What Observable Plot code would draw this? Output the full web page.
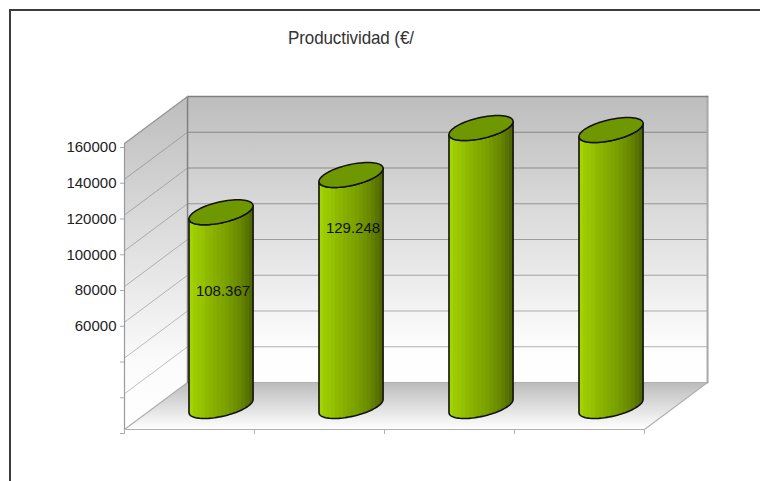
<!DOCTYPE html>
<html>
<head>
<meta charset="utf-8">
<script src="https://cdn.jsdelivr.net/npm/d3@7"></script>
<script src="https://cdn.jsdelivr.net/npm/@observablehq/plot@0.6"></script>
<style>
html,body{margin:0;padding:0;background:#fff;width:760px;height:481px;overflow:hidden}
#frame{position:absolute;left:9px;top:9px;width:751px;height:472px;border-left:2px solid #3c3c3c;border-top:2px solid #3c3c3c;box-sizing:border-box;pointer-events:none}
#title{position:absolute;left:288px;top:28px;font:17px "Liberation Sans",sans-serif;color:#333;white-space:pre;letter-spacing:-.1px;transform:scaleY(1.08);transform-origin:left top}
#chart{position:absolute;left:0;top:0}
</style>
</head>
<body>
<div id="chart"></div>
<div id="frame"></div>
<div id="title">Productividad (€/</div>
<script>
// Data
const titleText = "Productividad (€/";
const categories = [0, 1, 2, 3];
const values = [108367, 129248, 155500, 154400];
const valueLabels = ["108.367", "129.248", "", ""];
const labelHeights = [64000, 99300, 0, 0];
const gridValues = [0, 20000, 40000, 60000, 80000, 100000, 120000, 140000, 160000];
const labelledTicks = [60000, 80000, 100000, 120000, 140000, 160000];
const xTicks = [0, 1, 2, 3, 4];

// Oblique projection: one unit of depth moves a point right and up (in data units)
const DEPTH_X = 0.485, DEPTH_Y = 26300;
const VMAX = 160000, NC = 4;
const RC = 0.21, RD = 0.266;
const pt = (c, v, d = 0) => ({x: c + d * DEPTH_X, y: v + d * DEPTH_Y});

const wall = (corners) => corners.map(([c, v, d]) => pt(c, v, d));
const backWall = wall([[0,0,1],[NC,0,1],[NC,VMAX,1],[0,VMAX,1],[0,0,1]]);
const sideWall = wall([[0,0,0],[0,VMAX,0],[0,VMAX,1],[0,0,1],[0,0,0]]);
const floor = wall([[0,0,0],[NC,0,0],[NC,0,1],[0,0,1],[0,0,0]]);

const gridGrey = d3.scaleLinear().domain([0, VMAX]).range(["#b8b8b8", "#808080"]);
const sideGrey = d3.scaleLinear().domain([0, VMAX]).range(["#c4c4c4", "#9a9a9a"]);
const backGrid = gridValues.flatMap(v => [pt(0, v, 1), pt(NC, v, 1)].map(p => ({...p, k: v, s: gridGrey(v)})));
const sideGrid = gridValues.flatMap(v => [pt(0, v, 0), pt(0, v, 1)].map(p => ({...p, k: v, s: sideGrey(v)})));

// Cylinder outlines
const ring = (c, v, a) => pt(c + 0.5 + RC * Math.cos(a), v, 0.5 + RD * Math.sin(a));
const A0 = Math.atan2(RD * DEPTH_X, RC); // angle of the ellipse's x extreme
const steps = d3.range(0, 49).map(i => i / 48);
const bodies = categories.flatMap(c => {
  const v = values[c];
  const front = steps.map(t => ring(c, 0, Math.PI + A0 + t * Math.PI));
  const back = steps.map(t => ring(c, v, A0 - t * Math.PI));
  return [...front, ...back, front[0]].map(p => ({...p, c}));
});
const caps = categories.flatMap(c =>
  d3.range(0, 73).map(i => ({...ring(c, values[c], i / 72 * 2 * Math.PI), c})));

const tickLabel = v => labelledTicks.includes(v) ? String(v) : "";

const bandCols = ["#a3d400","#9ccb00","#98c600","#94c100","#8eb900","#8ab400","#86ae00","#82a900","#7ea400","#7aa000","#749800","#6f9100","#698900","#618000","#597400","#4f6800"];
function defs() {
  const d = d3.create("svg:defs");
  const vg = (id, stops) => {
    const g = d.append("linearGradient").attr("id", id).attr("x1",0).attr("y1",0).attr("x2",0).attr("y2",1);
    stops.forEach(([o, c]) => g.append("stop").attr("offset", o).attr("stop-color", c));
  };
  vg("wallGrad", [[0,"#bdbdbd"],[0.88,"#fdfdfd"],[1,"#ffffff"]]);
  vg("sideGrad", [[0,"#bdbdbd"],[0.8,"#fbfbfb"],[1,"#ffffff"]]);
  vg("floorGrad", [[0,"#bcbcbc"],[1,"#ffffff"]]);
  const g = d.append("linearGradient").attr("id","cylGrad").attr("x1",0).attr("y1",0).attr("x2",1).attr("y2",0);
  bandCols.forEach((c,i) => {
    g.append("stop").attr("offset", i/bandCols.length).attr("stop-color", c);
    g.append("stop").attr("offset", (i+1)/bandCols.length).attr("stop-color", c);
  });
  return d.node();
}

const font = '"Liberation Sans", sans-serif';
const plot = Plot.plot({
  width: 760, height: 481,
  marginLeft: 124, marginRight: 116, marginTop: 143, marginBottom: 52,
  style: {background: "#fff", fontFamily: font, overflow: "visible"},
  x: {domain: [0, NC], axis: null},
  y: {domain: [0, VMAX], axis: null},
  marks: [
    defs,
    Plot.line(backWall, {x:"x", y:"y", fill:"url(#wallGrad)", stroke:"none"}),
    Plot.line(sideWall, {x:"x", y:"y", fill:"url(#sideGrad)", stroke:"none"}),
    Plot.line(backGrid, {x:"x", y:"y", z:"k", stroke:"s", strokeWidth:1.2}),
    Plot.line(sideGrid, {x:"x", y:"y", z:"k", stroke:"s", strokeWidth:1}),
    Plot.line(floor, {x:"x", y:"y", fill:"url(#floorGrad)", stroke:"#b0b0b0", strokeWidth:1.2}),
    Plot.line(wall([[NC,0,1],[NC,VMAX,1]]), {x:"x", y:"y", stroke:"#a8a8a8", strokeWidth:2}),
    Plot.line(wall([[0,0,1],[0,VMAX,1],[NC,VMAX,1]]), {x:"x", y:"y", stroke:"#808080", strokeWidth:1.5}),
    Plot.line(wall([[0,0,0],[0,VMAX,0],[0,VMAX,1]]), {x:"x", y:"y", stroke:"#9a9a9a", strokeWidth:1.2}),
    Plot.axisY({ticks: gridValues, tickFormat: tickLabel, tickSize: 4, tickPadding: 4, stroke:"#aaa",
      fill:"#222", fontSize: 15, dy: 4, label: null}),
    Plot.axisX({ticks: xTicks, tickFormat: () => "", tickSize: 5, stroke:"#b0b0b0", label: null}),
    Plot.line(bodies, {x:"x", y:"y", z:"c", fill:"url(#cylGrad)", stroke:"#111", strokeWidth:1.6}),
    Plot.line(caps, {x:"x", y:"y", z:"c", fill:"#6f9800", stroke:"#111", strokeWidth:1.5}),
    Plot.text(categories.filter(c => valueLabels[c]), {
      x: c => pt(c + 0.5, labelHeights[c], 0.5).x,
      y: c => pt(c + 0.5, labelHeights[c], 0.5).y,
      text: c => valueLabels[c], fontSize: 15, fill:"#111", dx: 2
    })
  ]
});
document.getElementById("chart").appendChild(plot);
</script>
</body>
</html>
